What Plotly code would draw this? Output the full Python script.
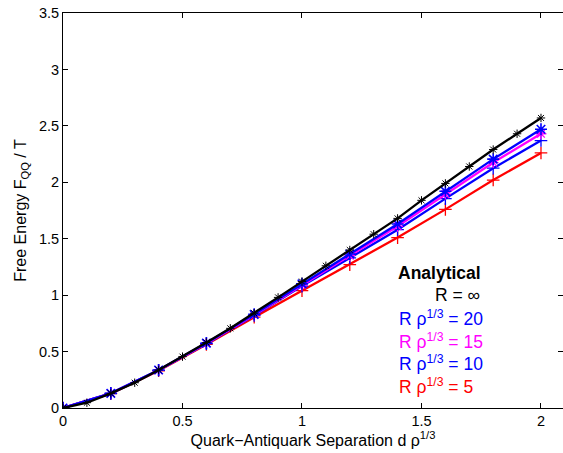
import plotly.graph_objects as go

# Data
x_fine = [round(0.1 * i, 1) for i in range(21)]
r_inf = [0, 0.047, 0.13, 0.224, 0.337, 0.455, 0.58, 0.706, 0.84, 0.98, 1.12,
         1.26, 1.40, 1.54, 1.68, 1.84, 1.99, 2.14, 2.29, 2.43, 2.57]
x_coarse = [round(0.2 * i, 1) for i in range(11)]
r20 = [0, 0.13, 0.337, 0.575, 0.83, 1.10, 1.365, 1.63, 1.92, 2.205, 2.47]
r15 = [0, 0.13, 0.335, 0.572, 0.825, 1.09, 1.35, 1.61, 1.895, 2.175, 2.43]
r10 = [0, 0.13, 0.334, 0.57, 0.82, 1.08, 1.33, 1.58, 1.855, 2.125, 2.37]
r5 = [0, 0.127, 0.33, 0.563, 0.805, 1.04, 1.27, 1.51, 1.76, 2.02, 2.26]

x_ticks = [0, 0.5, 1, 1.5, 2]
x_ticklabels = ["0", "0.5", "1", "1.5", "2"]
y_ticks = [0, 0.5, 1, 1.5, 2, 2.5, 3, 3.5]
y_ticklabels = ["0", "0.5", "1", "1.5", "2", "2.5", "3", "3.5"]

FONT = "Liberation Sans, Arial, Helvetica, sans-serif"

fig = go.Figure()

def add(x, y, color, symbol, size, mw):
    fig.add_trace(go.Scatter(
        x=x, y=y, mode="lines+markers",
        line=dict(color=color, width=2.3),
        marker=dict(symbol=symbol, size=size, color=color,
                    line=dict(color=color, width=mw)),
        showlegend=False))

add(x_coarse, r5, "#ff0000", "cross-thin-open", 9, 1.3)
add(x_coarse, r10, "#0000ff", "cross-thin-open", 9, 1.3)
add(x_coarse, r15, "#ff00ff", "asterisk-open", 9, 1.3)
add(x_coarse, r20, "#0000ff", "asterisk-open", 10, 1.6)
add(x_fine, r_inf, "#000000", "asterisk-open", 7, 1.0)

# Legend text
legend_items = [
    ("<b>Analytical</b>", "#000000", 396, 273),
    ("R = ∞", "#000000", 433, 295),
    ("R ρ<sup>1/3</sup> = 20", "#0000ff", 397, 318),
    ("R ρ<sup>1/3</sup> = 15", "#ff00ff", 397, 341),
    ("R ρ<sup>1/3</sup> = 10", "#0000ff", 397, 363),
    ("R ρ<sup>1/3</sup> = 5", "#ff0000", 397, 386),
]
W, H = 563, 453
for txt, col, px, py in legend_items:
    fig.add_annotation(
        text=txt, xref="paper", yref="paper",
        x=(px - 63) / 500, y=(408 - py) / 395,
        xanchor="left", yanchor="middle", showarrow=False,
        font=dict(family=FONT, size=17.5, color=col))

axis_common = dict(
    showgrid=False, zeroline=False, showline=True, linecolor="black",
    linewidth=1, mirror="ticks", ticks="inside", ticklen=5,
    tickcolor="black", tickfont=dict(family=FONT, size=14.5, color="black"),
)

fig.update_xaxes(range=[0, 2.0921], tickvals=x_ticks, ticktext=x_ticklabels,
                 title=dict(text="Quark−Antiquark Separation d ρ<sup>1/3</sup>",
                            font=dict(family=FONT, size=16, color="black"),
                            standoff=4),
                 **axis_common)
fig.update_yaxes(range=[0, 3.5], tickvals=y_ticks, ticktext=y_ticklabels,
                 title=dict(text="Free Energy F<sub>QQ</sub> / T",
                            font=dict(family=FONT, size=16, color="black"),
                            standoff=8),
                 **axis_common)

fig.update_layout(
    width=W, height=H,
    margin=dict(l=63, r=0, t=13, b=45),
    plot_bgcolor="white", paper_bgcolor="white",
)

fig.write_html("out.html")
